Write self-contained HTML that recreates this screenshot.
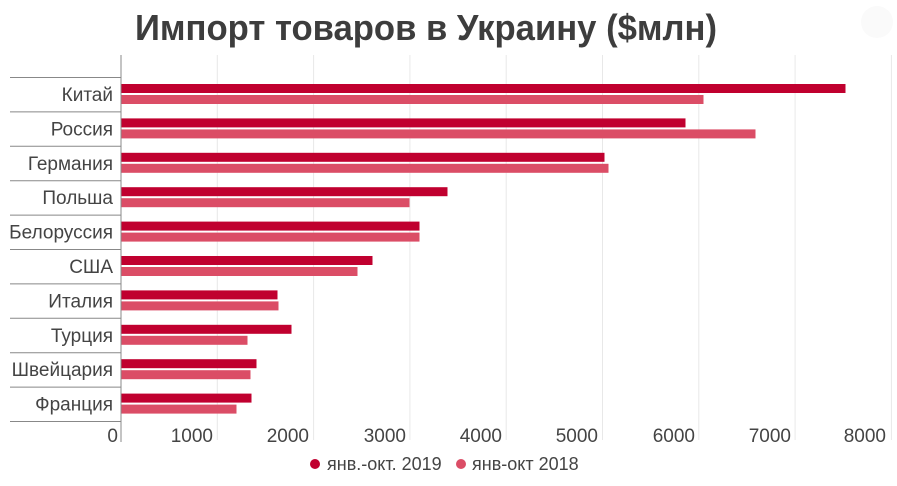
<!DOCTYPE html>
<html><head><meta charset="utf-8"><style>
body{margin:0;background:#fff;width:897px;height:481px;overflow:hidden;font-family:"Liberation Sans",sans-serif}
</style></head><body>
<svg width="897" height="481" xmlns="http://www.w3.org/2000/svg" font-family="Liberation Sans, sans-serif">
<text x="426" y="40" text-anchor="middle" font-size="36" font-weight="bold" fill="#3d3d3d" textLength="582" lengthAdjust="spacingAndGlyphs">Импорт товаров в Украину ($млн)</text>
<circle cx="877" cy="22" r="16" fill="#fafafa"/>
<g stroke="#e8e8e8" stroke-width="1">
<line x1="217.3" y1="55" x2="217.3" y2="440"/><line x1="313.6" y1="55" x2="313.6" y2="440"/><line x1="409.9" y1="55" x2="409.9" y2="440"/><line x1="506.2" y1="55" x2="506.2" y2="440"/><line x1="602.5" y1="55" x2="602.5" y2="440"/><line x1="698.8" y1="55" x2="698.8" y2="440"/><line x1="795.1" y1="55" x2="795.1" y2="440"/><line x1="891.4" y1="55" x2="891.4" y2="440"/>
</g>
<g stroke="#888" stroke-width="1">
<line x1="10" y1="77.5" x2="121" y2="77.5"/><line x1="10" y1="111.9" x2="121" y2="111.9"/><line x1="10" y1="146.3" x2="121" y2="146.3"/><line x1="10" y1="180.7" x2="121" y2="180.7"/><line x1="10" y1="215.1" x2="121" y2="215.1"/><line x1="10" y1="249.5" x2="121" y2="249.5"/><line x1="10" y1="283.9" x2="121" y2="283.9"/><line x1="10" y1="318.3" x2="121" y2="318.3"/><line x1="10" y1="352.7" x2="121" y2="352.7"/><line x1="10" y1="387.1" x2="121" y2="387.1"/><line x1="10" y1="421.5" x2="121" y2="421.5"/>
<line x1="121" y1="55" x2="121" y2="442"/>
</g>
<g>
<rect x="121.5" y="84" width="724" height="9" fill="#c0002f"/><rect x="121.5" y="95" width="582" height="9" fill="#db4d66"/>
<rect x="121.5" y="118.4" width="564" height="9" fill="#c0002f"/><rect x="121.5" y="129.4" width="634" height="9" fill="#db4d66"/>
<rect x="121.5" y="152.8" width="483" height="9" fill="#c0002f"/><rect x="121.5" y="163.8" width="487" height="9" fill="#db4d66"/>
<rect x="121.5" y="187.2" width="326" height="9" fill="#c0002f"/><rect x="121.5" y="198.2" width="288" height="9" fill="#db4d66"/>
<rect x="121.5" y="221.6" width="298" height="9" fill="#c0002f"/><rect x="121.5" y="232.6" width="298" height="9" fill="#db4d66"/>
<rect x="121.5" y="256" width="251" height="9" fill="#c0002f"/><rect x="121.5" y="267" width="236" height="9" fill="#db4d66"/>
<rect x="121.5" y="290.4" width="156" height="9" fill="#c0002f"/><rect x="121.5" y="301.4" width="157" height="9" fill="#db4d66"/>
<rect x="121.5" y="324.8" width="170" height="9" fill="#c0002f"/><rect x="121.5" y="335.8" width="126" height="9" fill="#db4d66"/>
<rect x="121.5" y="359.2" width="135" height="9" fill="#c0002f"/><rect x="121.5" y="370.2" width="129" height="9" fill="#db4d66"/>
<rect x="121.5" y="393.6" width="130" height="9" fill="#c0002f"/><rect x="121.5" y="404.6" width="115" height="9" fill="#db4d66"/>
</g>
<g font-size="19" fill="#444" text-anchor="end">
<text x="113" y="101">Китай</text><text x="113" y="135.4">Россия</text><text x="113" y="169.8">Германия</text><text x="113" y="204.2">Польша</text><text x="113" y="238.6">Белоруссия</text><text x="113" y="273">США</text><text x="113" y="307.4">Италия</text><text x="113" y="341.8">Турция</text><text x="113" y="376.2">Швейцария</text><text x="113" y="410.6">Франция</text>
<text x="118" y="442">0</text><text x="213" y="442">1000</text><text x="309" y="442">2000</text><text x="406" y="442">3000</text><text x="502" y="442">4000</text><text x="598" y="442">5000</text><text x="695" y="442">6000</text><text x="791" y="442">7000</text><text x="886" y="442">8000</text>
</g>
<circle cx="315" cy="464" r="5" fill="#c0002f"/>
<text x="327" y="470" font-size="18" fill="#444">янв.-окт. 2019</text>
<circle cx="461" cy="464" r="5" fill="#db4d66"/>
<text x="472" y="470" font-size="18" fill="#444">янв-окт 2018</text>
</svg>
</body></html>
